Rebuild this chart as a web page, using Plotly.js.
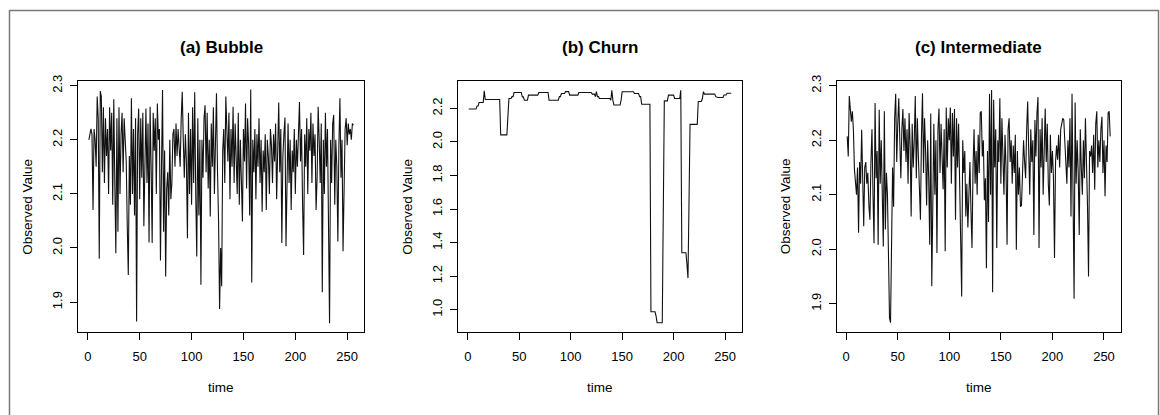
<!DOCTYPE html>
<html>
<head>
<meta charset="utf-8">
<script src="https://cdn.plot.ly/plotly-3.0.1.min.js"></script>
<style>html,body{margin:0;padding:0;background:#fff;}#chart{width:1160px;height:415px;}</style>
</head>
<body>
<div id="chart"></div>
<script>
// ---- data ----
const panelTitles = ["(a) Bubble", "(b) Churn", "(c) Intermediate"];
const xTitle = "time";
const yTitle = "Observed Value";
const xTicks = [0, 50, 100, 150, 200, 250];
const yTicksBubble = [1.9, 2.0, 2.1, 2.2, 2.3];
const yTicksChurn = [1.0, 1.2, 1.4, 1.6, 1.8, 2.0, 2.2];
const yTicksInter = [1.9, 2.0, 2.1, 2.2, 2.3];

const bubble = [
 2.20, 2.21, 2.22, 2.21, 2.07, 2.22, 2.20, 2.15, 2.28, 2.24, 1.98, 2.29, 2.28, 2.14, 2.26, 2.12,
 2.24, 2.17, 2.22, 2.10, 2.26, 2.18, 2.25, 2.08, 2.275, 2.12, 1.99, 2.24, 2.03, 2.26, 2.10, 2.21,
 2.25, 2.14, 2.24, 2.20, 2.16, 2.04, 1.95, 2.17, 2.08, 2.277, 2.10, 2.22, 2.06, 2.24, 1.864, 2.21,
 2.258, 2.09, 2.24, 2.13, 2.25, 2.04, 2.20, 2.258, 2.12, 2.23, 2.01, 2.261, 2.15, 2.009, 2.25, 2.18,
 2.24, 2.10, 2.267, 2.20, 2.22, 1.977, 2.15, 2.292, 2.03, 2.18, 1.947, 2.11, 2.14, 2.06, 2.20, 2.09,
 2.12, 2.21, 2.22, 2.15, 2.23, 2.17, 2.22, 2.19, 2.15, 2.24, 2.289, 2.20, 2.13, 2.21, 2.16, 2.018,
 2.25, 2.10, 2.22, 2.08, 2.26, 2.12, 2.288, 2.10, 1.984, 2.24, 2.06, 2.20, 1.932, 2.20, 2.13, 2.24,
 2.264, 2.14, 2.25, 2.11, 2.20, 2.058, 2.23, 2.15, 2.26, 2.10, 2.24, 2.286, 2.14, 2.05, 1.887, 2.00,
 1.929, 2.18, 2.22, 2.12, 2.28, 2.20, 2.16, 2.25, 2.09, 2.22, 2.15, 2.261, 2.12, 2.23, 2.18, 2.10,
 2.25, 2.08, 2.20, 2.13, 2.049, 2.22, 2.16, 2.267, 2.11, 2.24, 2.19, 2.06, 2.293, 1.936, 2.20, 2.14,
 2.22, 2.09, 2.21, 2.15, 2.24, 2.12, 2.20, 2.067, 2.18, 2.14, 2.21, 2.07, 2.20, 2.17, 2.10, 2.22,
 2.19, 2.12, 2.21, 2.16, 2.23, 2.09, 2.20, 2.269, 2.14, 2.22, 2.009, 2.17, 2.21, 2.241, 2.003, 2.16,
 2.23, 2.12, 2.20, 2.07, 2.18, 2.14, 2.22, 2.10, 2.20, 2.15, 2.24, 2.27, 2.16, 2.22, 2.08, 1.987,
 2.21, 2.15, 2.24, 2.10, 2.22, 2.18, 2.25, 2.12, 2.23, 2.17, 2.21, 2.07, 2.13, 2.261, 2.20, 2.12,
 2.23, 1.918, 2.20, 2.10, 2.25, 2.15, 2.22, 2.034, 1.861, 2.20, 2.12, 2.23, 2.246, 2.08, 2.20, 2.15,
 2.012, 2.19, 2.277, 2.13, 2.20, 1.994, 2.15, 2.22, 2.24, 2.19, 2.23, 2.21, 2.22, 2.20, 2.23, 2.227
];

const churn = [
 2.196, 2.196, 2.196, 2.196, 2.196, 2.196, 2.196, 2.196, 2.214, 2.214,
 2.235, 2.235, 2.235, 2.235, 2.235, 2.305,
 2.253, 2.253, 2.253, 2.253, 2.253, 2.253, 2.253, 2.253, 2.253, 2.253, 2.253, 2.253, 2.253, 2.253, 2.253,
 2.042, 2.042, 2.042, 2.042, 2.042, 2.042, 2.042, 2.151,
 2.259, 2.259, 2.259, 2.27, 2.27,
 2.295, 2.295, 2.295, 2.295, 2.295, 2.295, 2.295, 2.295, 2.269, 2.269,
 2.249, 2.249, 2.249, 2.249,
 2.279, 2.279, 2.279, 2.279, 2.279, 2.279, 2.279, 2.279, 2.279, 2.279,
 2.295, 2.295, 2.295, 2.295, 2.295, 2.295, 2.295, 2.295, 2.295, 2.295,
 2.249, 2.249, 2.249, 2.249, 2.249, 2.249, 2.249, 2.249, 2.249, 2.249,
 2.27, 2.27, 2.289, 2.289, 2.289, 2.289, 2.30, 2.30, 2.30, 2.30,
 2.279, 2.279, 2.279, 2.279, 2.279, 2.279, 2.279, 2.279, 2.279,
 2.295, 2.295, 2.295, 2.295, 2.295, 2.295, 2.295, 2.295, 2.295, 2.295, 2.295, 2.295, 2.295,
 2.285, 2.285, 2.285, 2.27, 2.30, 2.27, 2.27,
 2.259, 2.259, 2.259, 2.259, 2.259, 2.259, 2.259, 2.259, 2.259, 2.259, 2.259,
 2.249, 2.308, 2.249,
 2.22, 2.22, 2.22, 2.22, 2.22, 2.22, 2.22, 2.249,
 2.299, 2.299, 2.299, 2.299, 2.299, 2.299, 2.299, 2.299, 2.299, 2.299, 2.299, 2.299,
 2.289, 2.289, 2.289, 2.289, 2.289, 2.27, 2.27,
 2.225, 2.225, 2.225, 2.225, 2.225, 2.225, 2.225, 2.225, 2.225,
 0.987, 0.987, 0.987, 0.987, 0.987, 0.961,
 0.922, 0.922, 0.922, 0.922, 0.922, 0.922, 1.581,
 2.245, 2.245, 2.245, 2.245, 2.279, 2.279, 2.279, 2.279, 2.279, 2.279,
 2.259, 2.259, 2.259, 2.259, 2.259, 2.259, 2.308,
 1.339, 1.339, 1.339, 1.339, 1.339, 1.27, 1.188, 1.64,
 2.105, 2.105, 2.105, 2.105, 2.105, 2.105, 2.105, 2.105,
 2.241, 2.241, 2.241, 2.241, 2.259, 2.30,
 2.285, 2.285, 2.285, 2.285, 2.285, 2.285, 2.285, 2.285, 2.285, 2.285, 2.285,
 2.27, 2.265, 2.265, 2.265, 2.265, 2.265, 2.265, 2.265,
 2.28, 2.28, 2.28, 2.29, 2.29, 2.29, 2.29, 2.29
];

const intermediate = [
 2.207, 2.17, 2.281, 2.256, 2.234, 2.253, 2.219, 2.146, 2.127, 2.10, 2.15, 2.03, 2.16, 2.12, 2.219, 2.13,
 2.042, 2.15, 2.16, 2.12, 2.14, 2.08, 2.054, 2.16,
 2.22, 2.10, 2.011, 2.268, 2.13, 2.18, 2.008, 2.256, 2.12, 2.20, 2.09, 2.005, 2.253, 2.036, 2.14, 2.10,
 1.99, 1.874, 1.865, 2.042, 2.15, 2.078, 2.24, 2.285, 2.16, 2.23, 2.277, 2.20, 2.13, 2.22, 2.257, 2.18,
 2.24, 2.16, 2.22, 2.12, 2.25, 2.19, 2.06, 2.23, 2.15, 2.20, 2.281, 2.13, 2.24, 2.17, 2.10, 2.054,
 2.21, 2.286, 2.14, 2.24, 2.18, 2.08, 2.20, 2.13, 2.008, 2.249, 1.932, 2.16, 2.23, 2.10, 2.20, 1.993,
 2.22, 2.258, 2.14, 2.23, 2.18, 2.11, 2.22, 1.996, 2.26, 2.15, 2.24, 2.20, 2.26, 2.12, 2.25, 2.17,
 2.257, 2.054, 2.24, 2.15, 2.23, 2.12, 2.051, 1.913, 2.20, 2.14, 2.18, 2.06, 2.12, 2.04, 2.10, 2.16,
 2.07, 2.002, 2.15, 2.22, 2.12, 2.18, 2.10, 2.21, 2.14, 2.25, 2.253, 2.17, 2.20, 2.09, 2.13, 1.965,
 2.18, 2.05, 2.285, 2.10, 2.292, 1.921, 2.274, 2.15, 2.22, 2.002, 2.20, 2.16, 2.277, 2.12, 2.24, 2.18,
 2.10, 2.21, 2.15, 2.008, 2.22, 2.24, 2.16, 2.20, 2.12, 2.19, 2.14, 2.21, 1.999, 2.18, 2.10, 2.15,
 2.078, 2.08, 2.17, 2.20, 2.16, 2.13, 2.22, 2.271, 2.18, 2.10, 2.22, 2.16, 2.20, 2.026, 2.237, 2.17,
 2.25, 2.279, 2.002, 2.22, 2.15, 2.24, 2.10, 2.20, 2.258, 2.16, 2.23, 2.12, 2.08, 2.21, 2.14, 2.18,
 2.13, 1.984, 2.16, 2.19, 2.164, 2.21, 2.15, 2.22, 2.23, 2.24, 2.237, 2.20, 2.18, 2.12, 2.20, 2.15,
 2.24, 2.06, 2.285, 2.10, 1.909, 2.269, 2.12, 2.20, 2.14, 2.026, 2.22, 2.15, 2.10, 2.20, 2.13, 2.24,
 2.18, 2.08, 1.95, 2.18, 2.17, 2.19, 2.14, 2.21, 2.109, 2.23, 2.253, 2.15, 2.20, 2.16, 2.22, 2.243,
 2.14, 2.20, 2.097, 2.19, 2.16, 2.25, 2.253, 2.207
];

const time = bubble.map((_, i) => i + 1);

// ---- layout helpers ----
const W = 1160, H = 415;
const px = v => v / W;
const py = v => (H - v) / H;
const FONT = "Liberation Sans, Arial, Helvetica, sans-serif";

const panels = [
  {x0: 78.3, x1: 364.0, yr: [1.8446, 2.3087], yt: yTicksBubble, series: bubble},
  {x0: 458.3, x1: 741.7, yr: [0.8666, 2.3634], yt: yTicksChurn, series: churn},
  {x0: 836.7, x1: 1120.7, yr: [1.848, 2.3086], yt: yTicksInter, series: intermediate}
];
const boxTop = 81, boxBot = 332;

const data = [];
const layout = {
  width: W, height: H,
  margin: {l: 0, r: 0, t: 0, b: 0},
  paper_bgcolor: "#ffffff", plot_bgcolor: "#ffffff",
  showlegend: false,
  font: {family: FONT, size: 13, color: "#000"},
  annotations: [],
  shapes: [{
    type: "rect", xref: "paper", yref: "paper",
    x0: px(9.5), x1: px(1158.5), y0: -0.1, y1: py(10.5),
    line: {color: "#7a7a7a", width: 1.5}, fillcolor: "rgba(0,0,0,0)"
  }]
};

panels.forEach((p, i) => {
  const n = i === 0 ? "" : String(i + 1);
  data.push({
    type: "scatter", mode: "lines",
    x: time, y: p.series,
    xaxis: "x" + n, yaxis: "y" + n,
    line: {color: "#111", width: 1.1},
    hoverinfo: "skip"
  });
  const common = {
    showline: true, mirror: true, linecolor: "#000", linewidth: 1,
    ticks: "outside", ticklen: 7, tickwidth: 1, tickcolor: "#000",
    showgrid: false, zeroline: false,
    tickfont: {family: FONT, size: 13, color: "#000"},
    fixedrange: true
  };
  layout["xaxis" + n] = Object.assign({}, common, {
    domain: [px(p.x0), px(p.x1)],
    anchor: "y" + n,
    range: [-9.2, 266.2],
    tickmode: "array", tickvals: xTicks, ticktext: xTicks.map(String),
    ticklabelstandoff: 5
  });
  layout["yaxis" + n] = Object.assign({}, common, {
    domain: [py(boxBot), py(boxTop)],
    anchor: "x" + n,
    range: p.yr,
    tickmode: "array", tickvals: p.yt, ticktext: p.yt.map(v => v.toFixed(1)),
    tickangle: -90,
    ticklabelstandoff: 3
  });
  const cx = (p.x0 + p.x1) / 2;
  layout.annotations.push({
    xref: "paper", yref: "paper", x: px(cx), y: py(47),
    text: "<b>" + panelTitles[i] + "</b>", showarrow: false,
    xanchor: "center", yanchor: "middle",
    font: {family: FONT, size: 17, color: "#000"}
  });
  layout.annotations.push({
    xref: "paper", yref: "paper", x: px(cx), y: py(387),
    text: xTitle, showarrow: false,
    xanchor: "center", yanchor: "middle",
    font: {family: FONT, size: 13.5, color: "#000"}
  });
  layout.annotations.push({
    xref: "paper", yref: "paper", x: px(p.x0 - 51), y: py((boxTop + boxBot) / 2),
    text: yTitle, showarrow: false, textangle: -90,
    xanchor: "center", yanchor: "middle",
    font: {family: FONT, size: 13.5, color: "#000"}
  });
});

Plotly.newPlot("chart", data, layout, {staticPlot: true, displayModeBar: false});
</script>
</body>
</html>
